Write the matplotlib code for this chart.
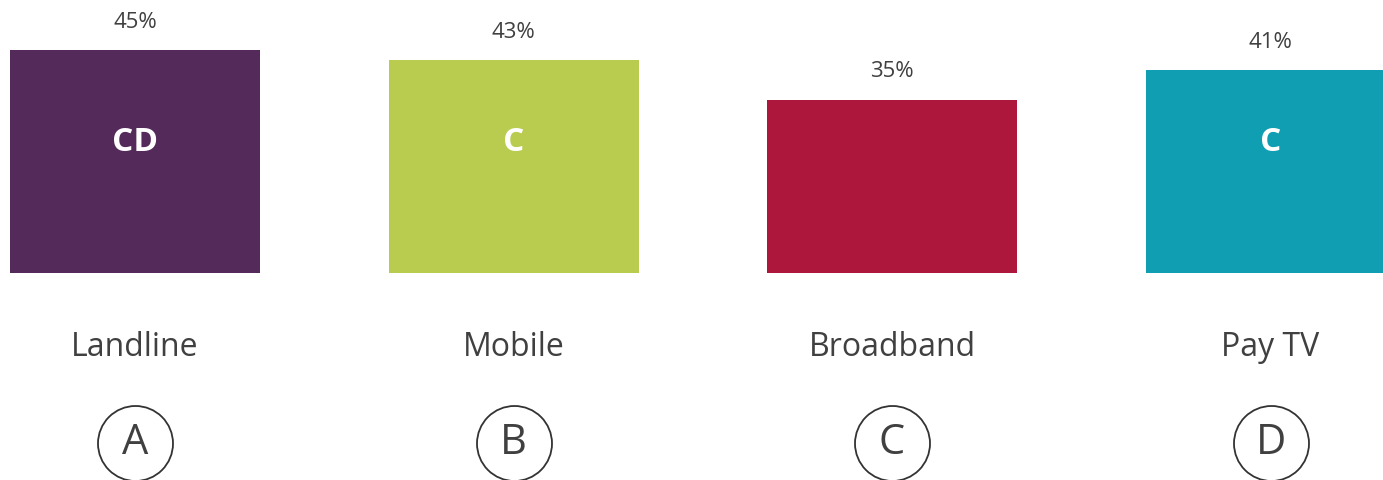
import matplotlib.pyplot as plt

categories = ["Landline", "Mobile", "Broadband", "Pay TV"]
values = [45, 43, 35, 41]
sig_labels = ["CD", "C", "", "C"]
letters = ["A", "B", "C", "D"]
colors = ["#532A5A", "#B9CC50", "#AD173B", "#109EB3"]

plt.rcParams['font.family'] = ['Open Sans', 'DejaVu Sans']
text_color = "#404040"

fig = plt.figure(figsize=(13.83, 4.8), dpi=100)
ax = fig.add_axes([0, 0, 1, 1])

x = range(len(categories))
bars = ax.bar(x, values, width=0.66, color=colors)

for bar, v, sig in zip(bars, values, sig_labels):
    cx = bar.get_x() + bar.get_width() / 2
    ax.annotate(f"{v}%", (cx, v), xytext=(0, 20), textcoords="offset points",
                ha="center", va="center", fontsize=16, color=text_color)
    if sig:
        ax.text(cx, 26.4, sig, ha="center", va="center", fontsize=24,
                fontweight="bold", color="white")

# category names and the lettered circles below the bars
for i, (cat, let) in enumerate(zip(categories, letters)):
    ax.text(i, -15.0, cat, ha="center", va="center", fontsize=23, color=text_color)
    ax.plot(i, -34.3, marker="o", markersize=54, mfc="none", mec="#333333",
            mew=1.3, clip_on=False)
    ax.text(i, -34.3, let, ha="center", va="center", fontsize=30, color=text_color)

ax.set_xlim(-0.357, 3.297)
ax.set_ylim(-41.8, 55.1)
ax.axis("off")

fig.savefig("out.png", dpi=100)
